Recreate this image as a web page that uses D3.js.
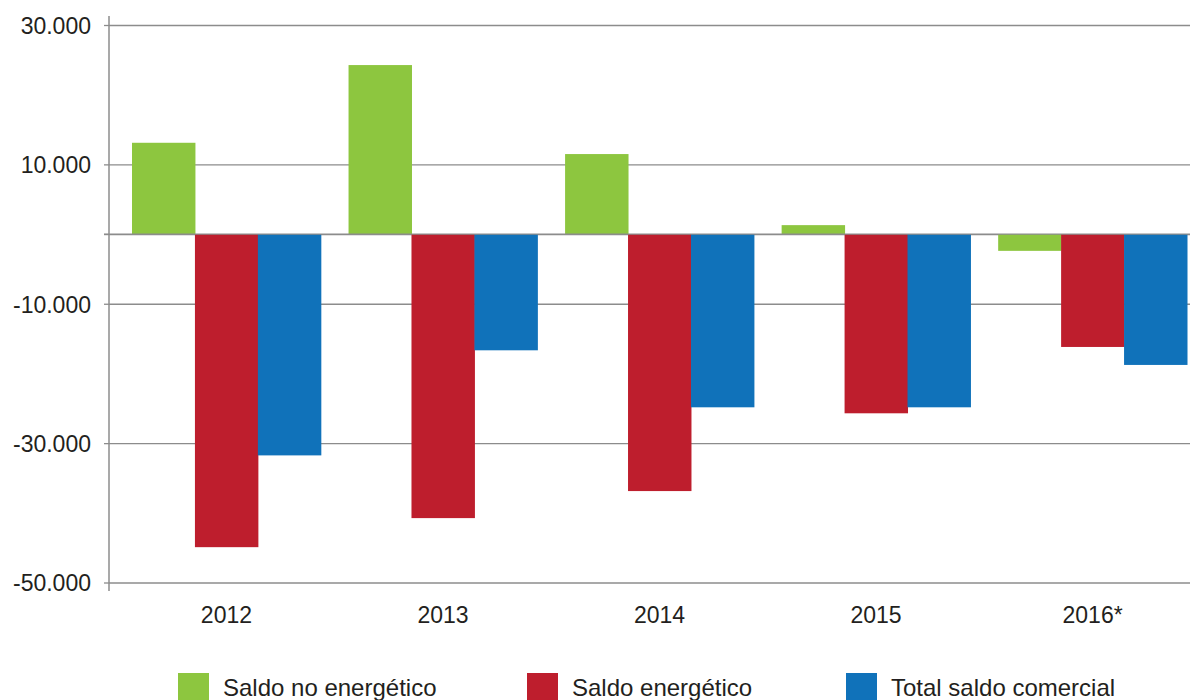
<!DOCTYPE html>
<html>
<head>
<meta charset="utf-8">
<script src="https://cdn.jsdelivr.net/npm/d3@7"></script>
<style>
  body { margin: 0; background: #fff; }
  svg { display: block; font-family: "Liberation Sans", Arial, Helvetica, sans-serif; }
  .tick text { fill: #231f20; }
</style>
</head>
<body>
<svg id="chart" width="1190" height="700"></svg>
<script>
// data
const years = ["2012", "2013", "2014", "2015", "2016*"];
const series = ["Saldo no energético", "Saldo energético", "Total saldo comercial"];
const noEnergetico = [13100, 24250, 11480, 1280, -2410];
const energetico = [-44930, -40760, -36880, -25720, -16200];
const totalSaldo = [-31760, -16680, -24860, -24860, -18780];
const yTicks = [30000, 10000, 0, -10000, -30000, -50000];
const colors = ["#8dc63f", "#be1e2d", "#1072ba"];

const svg = d3.select("#chart");
const axisX = 109;

// y scale
const y = d3.scaleLinear().domain([-50000, 30000]).range([582.5, 25]);

// x scales: groups and bars in group
const x0 = d3.scaleBand().domain(years).range([132, 1187]).paddingInner(0.128).paddingOuter(0);
const x1 = d3.scaleBand().domain(series).range([0, x0.bandwidth()]);

const rows = years.map((yr, i) => ({
  year: yr,
  values: [noEnergetico[i], energetico[i], totalSaldo[i]]
}));

// grid lines + labels (plain hyphen, dot as thousands separator)
const fmt = d => d === 0 ? "" : (d < 0 ? "-" : "") + d3.format(",")(Math.abs(d)).replace(/,/g, ".");
const yAxis = svg.append("g")
  .attr("transform", `translate(${axisX},0)`)
  .call(d3.axisLeft(y).tickValues(yTicks).tickFormat(fmt).tickSize(5).tickPadding(13));
yAxis.select(".domain").remove();
yAxis.selectAll(".tick line").clone()
  .attr("x1", 0).attr("x2", 1190 - axisX);
yAxis.selectAll(".tick line").attr("stroke", "#8c8c8c").attr("stroke-width", 1.3);
yAxis.selectAll(".tick text").attr("font-size", 23).attr("dy", "0.36em");

// bars
const g = svg.append("g");
g.selectAll("g.grp")
  .data(rows)
  .join("g")
  .attr("class", "grp")
  .attr("transform", d => `translate(${x0(d.year)},0)`)
  .selectAll("rect")
  .data(d => d.values.map((v, k) => ({ key: series[k], value: v, k })))
  .join("rect")
  .attr("x", d => x1(d.key))
  .attr("width", x1.bandwidth() + 0.5)
  .attr("y", d => y(Math.max(0, d.value)))
  .attr("height", d => Math.abs(y(d.value) - y(0)))
  .attr("fill", d => colors[d.k]);

// zero line over the bars
svg.append("line")
  .attr("x1", axisX - 5).attr("x2", 1190)
  .attr("y1", y(0)).attr("y2", y(0))
  .attr("stroke", "#8c8c8c").attr("stroke-width", 1.3);

// vertical axis line
svg.append("line")
  .attr("x1", axisX).attr("x2", axisX)
  .attr("y1", 16).attr("y2", 591)
  .attr("stroke", "#8c8c8c").attr("stroke-width", 1.5);

// x labels centered on groups
const xAxis = svg.append("g")
  .attr("transform", `translate(0,${y(-50000)})`)
  .call(d3.axisBottom(x0).tickSize(0).tickPadding(24));
xAxis.select(".domain").remove();
xAxis.selectAll(".tick text").attr("font-size", 23);

// legend
const legendX = [178, 527, 846];
const legend = svg.append("g").selectAll("g")
  .data(series)
  .join("g")
  .attr("transform", (d, i) => `translate(${legendX[i]},673)`);
legend.append("rect")
  .attr("width", 31).attr("height", 31)
  .attr("fill", (d, i) => colors[i]);
legend.append("text")
  .attr("x", 45).attr("y", 22.5)
  .attr("font-size", 24)
  .attr("fill", "#231f20")
  .text(d => d);
</script>
</body>
</html>
